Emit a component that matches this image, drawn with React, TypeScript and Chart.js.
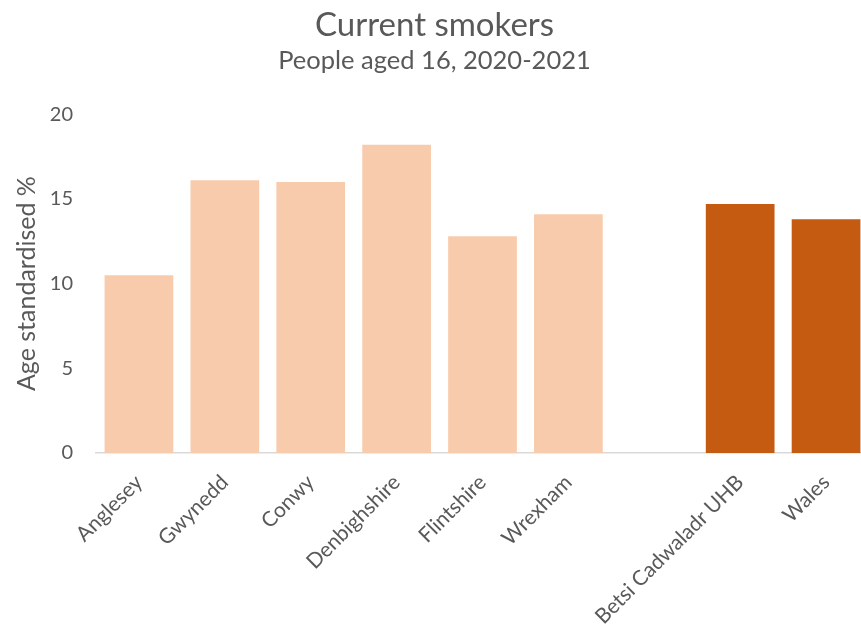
import React, { useEffect, useRef } from "react";
import { Chart, registerables } from "chart.js";

Chart.register(...registerables);

const categories = [
  "Anglesey",
  "Gwynedd",
  "Conwy",
  "Denbighshire",
  "Flintshire",
  "Wrexham",
  "",
  "Betsi Cadwaladr UHB",
  "Wales",
];
const values: (number | null)[] = [10.5, 16.1, 16.0, 18.2, 12.8, 14.1, null, 14.7, 13.8];
const barColors = [
  "#F8CBAD",
  "#F8CBAD",
  "#F8CBAD",
  "#F8CBAD",
  "#F8CBAD",
  "#F8CBAD",
  "#F8CBAD",
  "#C55A11",
  "#C55A11",
];
const yTicks = [0, 5, 10, 15, 20];
const titleText = "Current smokers";
const subtitleText = "People aged 16, 2020-2021";
const yTitle = "Age standardised %";

const FONT = "Lato, 'Open Sans', sans-serif";
const TEXT = "#595959";

export default function App() {
  const ref = useRef<HTMLCanvasElement | null>(null);
  useEffect(() => {
    document.body.style.margin = "0";
    const ctx = ref.current!;
    const chart = new Chart(ctx, {
      type: "bar",
      data: {
        labels: categories,
        datasets: [
          {
            data: values,
            backgroundColor: barColors,
            borderWidth: 0,
            barPercentage: 0.8,
            categoryPercentage: 1,
          },
        ],
      },
      options: {
        responsive: false,
        animation: false,
        devicePixelRatio: 1,
        layout: { padding: { left: 0, right: 0, top: 0, bottom: 0 } },
        plugins: {
          legend: { display: false },
          tooltip: { enabled: false },
          title: {
            display: true,
            text: titleText,
            color: TEXT,
            font: { family: FONT, size: 33, weight: "normal" },
            padding: { top: 6, bottom: 0 },
          },
          subtitle: {
            display: true,
            text: subtitleText,
            color: TEXT,
            font: { family: FONT, size: 25.5, weight: "normal" },
            padding: { top: 0, bottom: 38 },
          },
        },
        scales: {
          x: {
            grid: { display: false, drawTicks: false },
            border: { display: true, color: "#D9D9D9", width: 1.5 },
            ticks: {
              color: TEXT,
              font: { family: FONT, size: 21 },
              minRotation: 45,
              maxRotation: 45,
              autoSkip: false,
              padding: 17,
              labelOffset: 0,
            },
            afterFit: (s: any) => {
              s.height = 178;
            },
          },
          y: {
            min: 0,
            max: 20,
            afterBuildTicks: (s: any) => {
              s.ticks = yTicks.map((v) => ({ value: v }));
            },
            grid: { display: false, drawTicks: false },
            border: { display: false },
            ticks: {
              color: TEXT,
              font: { family: FONT, size: 20 },
              padding: 23,
            },
            title: {
              display: true,
              text: yTitle,
              color: TEXT,
              font: { family: FONT, size: 25 },
              padding: { top: 12, bottom: 0 },
            },
            afterFit: (s: any) => {
              s.width = 96;
            },
          },
        },
      },
    });
    return () => chart.destroy();
  }, []);
  return (
    <div
      style={{
        position: "fixed",
        left: 0,
        top: 0,
        width: 861,
        height: 631,
        overflow: "hidden",
        background: "#fff",
      }}
    >
      <canvas ref={ref} width={869} height={631} style={{ display: "block" }} />
    </div>
  );
}
